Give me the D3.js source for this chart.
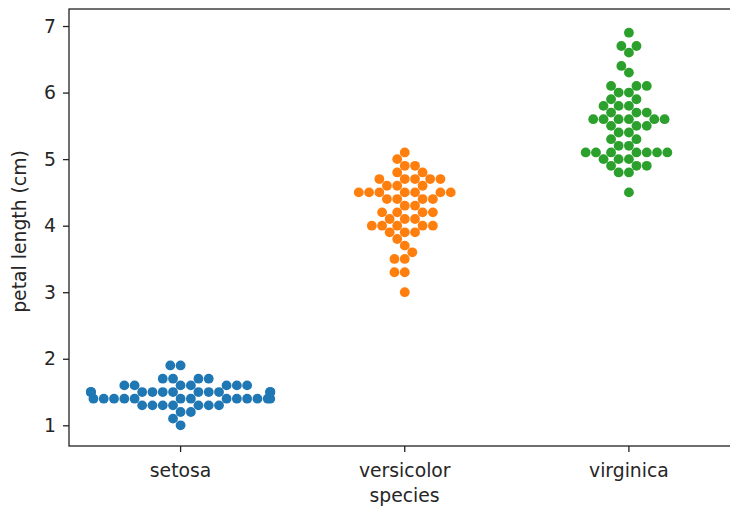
<!DOCTYPE html>
<html>
<head>
<meta charset="utf-8">
<script src="https://cdn.jsdelivr.net/npm/d3@7"></script>
<style>
  body { margin: 0; background: #fff; }
  svg text { font-family: "DejaVu Sans", sans-serif; fill: #262626; }
</style>
</head>
<body>
<div id="chart"></div>
<script>
const species = ["setosa", "versicolor", "virginica"];
const colors = ["#1f77b4", "#ff7f0e", "#2ca02c"];

// petal length (cm) per species, iris data
const setosa = [1.4,1.4,1.3,1.5,1.4,1.7,1.4,1.5,1.4,1.5,1.5,1.6,1.4,1.1,1.2,1.5,1.3,1.4,1.7,1.5,
  1.7,1.5,1.0,1.7,1.9,1.6,1.6,1.5,1.4,1.6,1.6,1.5,1.5,1.4,1.5,1.2,1.3,1.4,1.3,1.5,
  1.3,1.3,1.3,1.6,1.9,1.4,1.6,1.4,1.5,1.4];
const versicolor = [4.7,4.5,4.9,4.0,4.6,4.5,4.7,3.3,4.6,3.9,3.5,4.2,4.0,4.7,3.6,4.4,4.5,4.1,4.5,3.9,
  4.8,4.0,4.9,4.7,4.3,4.4,4.8,5.0,4.5,3.5,3.8,3.7,3.9,5.1,4.5,4.5,4.7,4.4,4.1,4.0,
  4.4,4.6,4.0,3.3,4.2,4.2,4.2,4.3,3.0,4.1];
const virginica = [6.0,5.1,5.9,5.6,5.8,6.6,4.5,6.3,5.8,6.1,5.1,5.3,5.5,5.0,5.1,5.3,5.5,6.7,6.9,5.0,
  5.7,4.9,6.7,4.9,5.7,6.0,4.8,4.9,5.6,5.8,6.1,6.4,5.6,5.1,5.6,6.1,5.6,5.5,4.8,5.4,
  5.6,5.1,5.1,5.9,5.7,5.2,5.0,5.2,5.4,5.1];
const yTicks = [1, 2, 3, 4, 5, 6, 7];

const seriesValues = [setosa, versicolor, virginica];

const width = 730, height = 508;
const plot = { left: 69, right: 741, top: 9, bottom: 446 };
const dotD = 9.8;

const svg = d3.select("#chart").append("svg")
    .attr("width", width)
    .attr("height", height);

const x = d3.scaleBand().domain(species).range([plot.left - 0.5, plot.right]).padding(0);
const y = d3.scaleLinear().domain([0.689, 7.256]).range([plot.bottom, plot.top]);

// seaborn-style beeswarm, in pixel space
function beeswarm(values, mid) {
  const pts = values.map((v, i) => ({ v, i, x: mid, y: y(v) }))
      .sort((a, b) => a.v - b.v || a.i - b.i);
  const swarm = [pts[0]];
  for (const p of pts.slice(1)) {
    const neighbors = [];
    for (let j = swarm.length - 1; j >= 0; j--) {
      if (Math.abs(p.y - swarm[j].y) < dotD) neighbors.unshift(swarm[j]);
      else break;
    }
    let cands = [{ x: p.x, y: p.y }];
    let leftFirst = true;
    neighbors.forEach(n => {
      const dy = p.y - n.y;
      const dx = Math.sqrt(Math.max(dotD * dotD - dy * dy, 0)) * 1.05;
      const cl = { x: n.x - dx, y: p.y }, cr = { x: n.x + dx, y: p.y };
      if (leftFirst) cands.push(cl, cr); else cands.push(cr, cl);
      leftFirst = !leftFirst;
    });
    cands = cands.map((c, k) => ({ c, k, off: Math.abs(c.x - mid) }))
        .sort((a, b) => a.off - b.off || a.k - b.k)
        .map(o => o.c);
    let chosen = cands[0];
    for (const c of cands) {
      const ok = neighbors.every(n => (n.x - c.x) ** 2 + (n.y - c.y) ** 2 >= dotD * dotD - 1e-9);
      if (ok) { chosen = c; break; }
    }
    swarm.push({ v: p.v, i: p.i, x: chosen.x, y: chosen.y });
  }
  // points that don't fit are pushed back to the edge of the category
  const half = x.bandwidth() * 0.8 / 2;
  swarm.forEach(p => { p.x = Math.max(mid - half, Math.min(mid + half, p.x)); });
  return swarm;
}

species.forEach((s, k) => {
  const mid = x(s) + x.bandwidth() / 2;
  const pts = beeswarm(seriesValues[k], mid);
  svg.append("g").selectAll("circle")
      .data(pts)
      .join("circle")
      .attr("cx", d => d.x)
      .attr("cy", d => d.y)
      .attr("r", 4.9)
      .attr("fill", colors[k]);
});

// axes
const xAxis = svg.append("g")
    .attr("transform", `translate(0,${plot.bottom})`)
    .call(d3.axisBottom(x).tickSizeOuter(0).tickSize(6).tickPadding(12));
const yAxis = svg.append("g")
    .attr("transform", `translate(${plot.left},0)`)
    .call(d3.axisLeft(y).tickValues(yTicks).tickFormat(d3.format("d")).tickSizeOuter(0).tickSize(6).tickPadding(7));

[xAxis, yAxis].forEach(g => {
  g.select(".domain").remove();
  g.selectAll(".tick line").attr("stroke", "#222").attr("stroke-width", 1.3);
  g.selectAll(".tick text").attr("font-size", "18.8px").attr("font-family", null).attr("fill", "#262626");
});

// frame
svg.append("rect")
    .attr("x", plot.left)
    .attr("y", plot.top)
    .attr("width", plot.right - plot.left)
    .attr("height", plot.bottom - plot.top)
    .attr("fill", "none")
    .attr("stroke", "#222")
    .attr("stroke-width", 1.3);

svg.append("text")
    .attr("x", (plot.left + plot.right) / 2 - 0.5)
    .attr("y", 502)
    .attr("text-anchor", "middle")
    .attr("font-size", "18.8px")
    .text("species");

svg.append("text")
    .attr("transform", `translate(26,${(plot.top + plot.bottom) / 2 + 4}) rotate(-90)`)
    .attr("text-anchor", "middle")
    .attr("font-size", "18.8px")
    .text("petal length (cm)");
</script>
</body>
</html>
